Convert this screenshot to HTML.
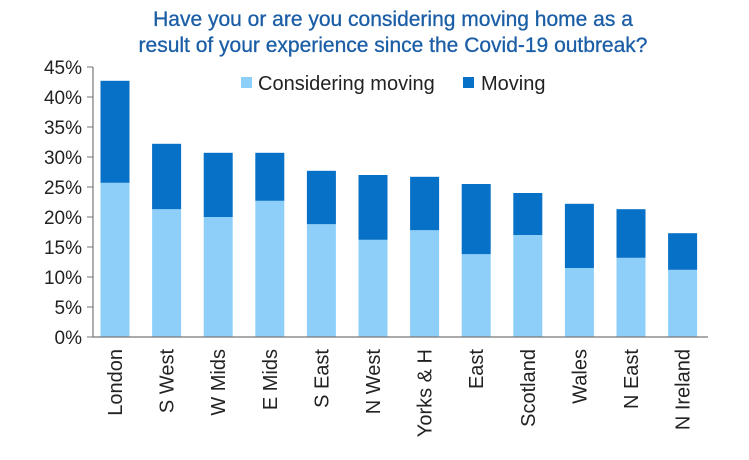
<!DOCTYPE html>
<html><head><meta charset="utf-8"><style>
body{margin:0;background:#fff;}
svg{display:block;font-family:"Liberation Sans",sans-serif;}
</style></head><body>
<svg id="chart" width="749" height="460">
<text x="393" y="26" text-anchor="middle" font-size="21" fill="#1b5ea6" stroke="#1b5ea6" stroke-width="0.3">Have you or are you considering moving home as a</text>
<text x="393" y="52" text-anchor="middle" font-size="21" fill="#1b5ea6" stroke="#1b5ea6" stroke-width="0.3">result of your experience since the Covid-19 outbreak?</text>
<g>
<rect x="241" y="77" width="11" height="11" fill="#8ecffa"/>
<text x="258" y="90" font-size="20" fill="#222">Considering moving</text>
<rect x="463" y="77" width="11" height="11" fill="#0671c6"/>
<text x="481" y="90" font-size="20" fill="#222">Moving</text>
</g>
<g id="plot"></g>
</svg>
<script>
const categories=["London","S West","W Mids","E Mids","S East","N West","Yorks & H","East","Scotland","Wales","N East","N Ireland"];
const considering=[25.7,21.3,20,22.7,18.8,16.2,17.8,13.8,17,11.5,13.2,11.2];
const totals=[42.7,32.2,30.7,30.7,27.7,27,26.7,25.5,24,22.2,21.3,17.3];
const yTicks=[0,5,10,15,20,25,30,35,40,45];
const NS="http://www.w3.org/2000/svg";
const g=document.getElementById('plot');
const y0=337,pxPer=6,x0=93,x1=708;
const yS=v=>y0-v*pxPer;
const xS=i=>115+i*51.6;
const bw=29;
function mk(t,a){const e=document.createElementNS(NS,t);for(const k in a)e.setAttribute(k,a[k]);g.appendChild(e);return e;}
yTicks.forEach(v=>{
 const l=mk('line',{x1:87,x2:x0,y1:yS(v),y2:yS(v),stroke:'#777','stroke-width':1});
 
 
 const t=mk('text',{x:82,y:yS(v)+7,'text-anchor':'end','font-size':19,fill:'#222'});
 t.textContent=v+'%';
 
 
});
categories.forEach((c,i)=>{
 const cx=xS(i);
 const r1=mk('rect',{x:cx-bw/2,y:yS(considering[i]),width:bw,height:considering[i]*pxPer,fill:'#8ecffa'});
 
 
 const r2=mk('rect',{x:cx-bw/2,y:yS(totals[i]),width:bw,height:(totals[i]-considering[i])*pxPer,fill:'#0671c6'});
 
 
 const t=mk('text',{x:0,y:0,'text-anchor':'end','font-size':20,fill:'#222',transform:`translate(${cx+7},349) rotate(-90)`});
 t.textContent=c;
 
 
});
const ya=mk('line',{x1:x0,x2:x0,y1:yS(45),y2:y0,stroke:'#777','stroke-width':1.2});


const xa=mk('line',{x1:x0,x2:x1,y1:y0,y2:y0,stroke:'#777','stroke-width':1.2});


</script>
</body></html>
